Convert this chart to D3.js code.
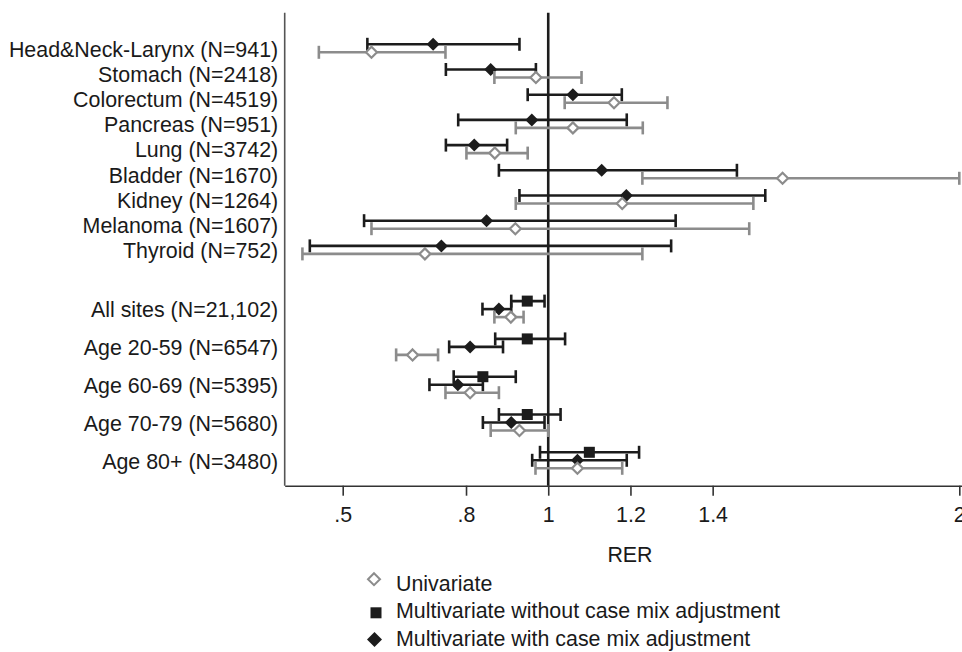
<!DOCTYPE html>
<html>
<head>
<meta charset="utf-8">
<script src="https://cdn.jsdelivr.net/npm/d3@7"></script>
<style>
  html, body { margin: 0; padding: 0; background: #fff; }
  svg { display: block; }
  text { font-family: "Liberation Sans", Arial, Helvetica, sans-serif; fill: #1a1a1a; }
</style>
</head>
<body>
<svg id="chart" width="962" height="652"></svg>
<script>
// ---------- data ----------
const sites = [
  "Head&Neck-Larynx (N=941)", "Stomach (N=2418)", "Colorectum (N=4519)",
  "Pancreas (N=951)", "Lung (N=3742)", "Bladder (N=1670)",
  "Kidney (N=1264)", "Melanoma (N=1607)", "Thyroid (N=752)"
];
const siteUniEst = [0.57, 0.97, 1.16, 1.06, 0.87, 1.57, 1.18, 0.92, 0.70];
const siteUniLo  = [0.442, 0.869, 1.04, 0.921, 0.801, 1.229, 0.921, 0.57, 0.402];
const siteUniHi  = [0.75, 1.081, 1.29, 1.23, 0.95, 2.0, 1.499, 1.489, 1.229];
const siteAdjEst = [0.72, 0.86, 1.06, 0.96, 0.82, 1.13, 1.19, 0.85, 0.74];
const siteAdjLo  = [0.56, 0.751, 0.95, 0.781, 0.751, 0.88, 0.93, 0.552, 0.42];
const siteAdjHi  = [0.93, 0.97, 1.179, 1.191, 0.90, 1.459, 1.528, 1.31, 1.299];

const groups = [
  "All sites (N=21,102)", "Age 20-59 (N=6547)", "Age 60-69 (N=5395)",
  "Age 70-79 (N=5680)", "Age 80+ (N=3480)"
];
const grpUniEst = [0.909, 0.67, 0.81, 0.93, 1.071];
const grpUniLo  = [0.869, 0.63, 0.75, 0.86, 0.969];
const grpUniHi  = [0.94, 0.732, 0.88, 1.0, 1.18];
const grpMvEst  = [0.949, 0.949, 0.841, 0.949, 1.10];
const grpMvLo   = [0.91, 0.871, 0.77, 0.88, 0.98];
const grpMvHi   = [0.991, 1.041, 0.921, 1.03, 1.221];
const grpAdjEst = [0.88, 0.81, 0.78, 0.91, 1.071];
const grpAdjLo  = [0.84, 0.759, 0.711, 0.841, 0.961];
const grpAdjHi  = [0.91, 0.89, 0.841, 0.991, 1.191];

const xTicks = [0.5, 0.8, 1, 1.2, 1.4, 2];
const xTitle = "RER";
const legendLabels = ["Univariate", "Multivariate without case mix adjustment", "Multivariate with case mix adjustment"];

// ---------- layout ----------
const svg = d3.select("#chart");
const FONT = 21.4;
const axisLeftX = 284.7, plotTop = 12.7, plotBottom = 485.7, plotRight = 962;
const BLACK = "#1c1c1c", GREY = "#8c8c8c";

const x = d3.scaleLinear().domain([0.5, 2]).range([342.7, 959.3]);
const xFull = x.copy().domain([x.invert(axisLeftX), x.invert(plotRight)]).range([axisLeftX, plotRight]);

// row positions (units), y scale
const rowPos = sites.map((d, i) => i).concat(groups.map((d, j) => 10.35 + 1.5 * j));
const rowNames = sites.concat(groups);
const y = d3.scaleLinear().domain([0, 16.35]).range([48.3, 460.3]);

// Build records
const recs = [];
sites.forEach((s, i) => {
  recs.push({ row: s, pos: i, off: -4, type: "adj", est: siteAdjEst[i], lo: siteAdjLo[i], hi: siteAdjHi[i] });
  recs.push({ row: s, pos: i, off: 4, type: "uni", est: siteUniEst[i], lo: siteUniLo[i], hi: siteUniHi[i] });
});
groups.forEach((g, j) => {
  const p = 10.35 + 1.5 * j;
  recs.push({ row: g, pos: p, off: -8, type: "mv", est: grpMvEst[j], lo: grpMvLo[j], hi: grpMvHi[j] });
  recs.push({ row: g, pos: p, off: 0, type: "adj", est: grpAdjEst[j], lo: grpAdjLo[j], hi: grpAdjHi[j] });
  recs.push({ row: g, pos: p, off: 8, type: "uni", est: grpUniEst[j], lo: grpUniLo[j], hi: grpUniHi[j] });
});

// ---------- axes ----------
svg.append("line")
  .attr("x1", axisLeftX).attr("x2", axisLeftX)
  .attr("y1", plotTop).attr("y2", plotBottom)
  .attr("stroke", "#555").attr("stroke-width", 1.6);

const yBand = d3.scaleOrdinal().domain(rowNames).range(rowPos.map(p => y(p)));
const gy = svg.append("g").attr("transform", `translate(${axisLeftX},0)`)
  .call(d3.axisLeft(yBand).tickSize(0).tickPadding(6.5));
gy.select(".domain").remove();
gy.selectAll("text").attr("font-size", FONT).attr("font-family", null).attr("fill", "#1a1a1a").attr("dy", "0.36em");

const gx = svg.append("g").attr("transform", `translate(0,${plotBottom})`)
  .call(d3.axisBottom(xFull).tickValues(xTicks).tickSize(10).tickPadding(11).tickSizeOuter(0)
    .tickFormat(d => String(d).replace(/^0\./, ".")));
gx.select(".domain").attr("stroke", "#333").attr("stroke-width", 1.6);
gx.selectAll(".tick line").attr("stroke", "#333").attr("stroke-width", 1.6);
gx.selectAll("text").attr("font-size", FONT).attr("font-family", null).attr("fill", "#1a1a1a");

svg.append("text").attr("x", 630).attr("y", 562).attr("text-anchor", "middle")
  .attr("font-size", FONT).text(xTitle);

// reference line at 1
svg.append("line")
  .attr("x1", x(1)).attr("x2", x(1))
  .attr("y1", plotTop).attr("y2", plotBottom)
  .attr("stroke", BLACK).attr("stroke-width", 2.6);

// ---------- error bars ----------
const CAP = 6.5;
const color = t => t === "uni" ? GREY : BLACK;
const order = { uni: 2, adj: 1, mv: 0 };
const sorted = recs.slice().sort((a, b) => order[a.type] - order[b.type]);
const bars = svg.append("g").selectAll("g").data(sorted).join("g")
  .attr("transform", d => `translate(0,${y(d.pos) + d.off})`);
bars.append("line").attr("x1", d => x(d.lo)).attr("x2", d => x(d.hi))
  .attr("stroke", d => color(d.type)).attr("stroke-width", 2.6);
bars.append("line").attr("x1", d => x(d.lo)).attr("x2", d => x(d.lo)).attr("y1", -CAP).attr("y2", CAP)
  .attr("stroke", d => color(d.type)).attr("stroke-width", 2.6);
bars.append("line").attr("x1", d => x(d.hi)).attr("x2", d => x(d.hi)).attr("y1", -CAP).attr("y2", CAP)
  .attr("stroke", d => color(d.type)).attr("stroke-width", 2.6);

const diamondPath = r => `M0,${-r}L${r},0L0,${r}L${-r},0Z`;
bars.each(function(d) {
  const g = d3.select(this).append("g").attr("transform", `translate(${x(d.est)},0)`);
  if (d.type === "uni") {
    g.append("path").attr("d", diamondPath(5.5)).attr("fill", "#fff").attr("stroke", GREY).attr("stroke-width", 2.2);
  } else if (d.type === "adj") {
    g.append("path").attr("d", diamondPath(6.5)).attr("fill", BLACK);
  } else {
    g.append("rect").attr("x", -5.5).attr("y", -5.5).attr("width", 11).attr("height", 11).attr("fill", BLACK);
  }
});

// ---------- legend ----------
const legY = [590.7, 618.3, 646];
const leg = svg.append("g");
legendLabels.forEach((lab, i) => {
  const cy = legY[i] - 7.5;
  if (i === 0) {
    leg.append("path").attr("transform", `translate(374,${cy - 4})`).attr("d", diamondPath(6))
      .attr("fill", "#fff").attr("stroke", GREY).attr("stroke-width", 2);
  } else if (i === 1) {
    leg.append("rect").attr("x", 376 - 5.5).attr("y", cy - 5.5 + 2).attr("width", 11).attr("height", 11).attr("fill", BLACK);
  } else {
    leg.append("path").attr("transform", `translate(374.5,${cy + 1})`).attr("d", diamondPath(7.5)).attr("fill", BLACK);
  }
  leg.append("text").attr("x", 396).attr("y", legY[i]).attr("font-size", FONT).text(lab);
});
</script>
</body>
</html>
